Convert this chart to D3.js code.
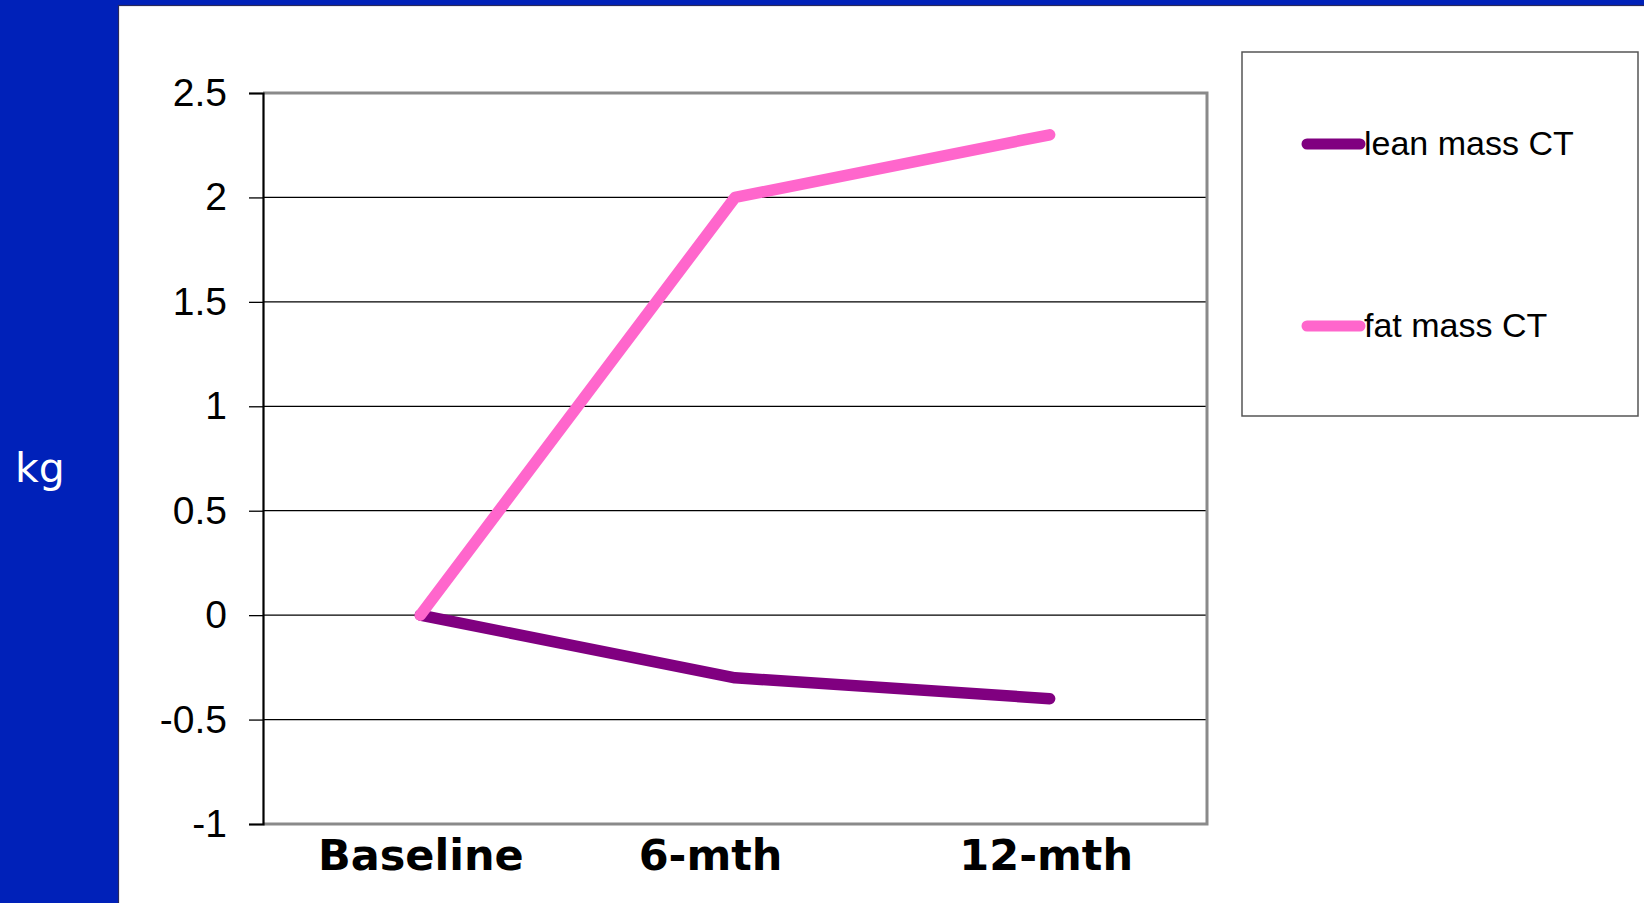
<!DOCTYPE html>
<html><head><meta charset="utf-8">
<script src="https://cdn.jsdelivr.net/npm/d3@7"></script>
<style>body{margin:0;background:#fff}svg{display:block}</style>
</head><body><svg id="c" width="1644" height="903"></svg>
<script>
const categories = ["Baseline", "6-mth", "12-mth"];
const leanMass = [0, -0.3, -0.4];
const fatMass = [0, 2.0, 2.3];
const seriesNames = ["lean mass CT", "fat mass CT"];
const seriesColors = ["#800080", "#FF66CC"];
const yTicks = [-1, -0.5, 0, 0.5, 1, 1.5, 2, 2.5];
const yLabel = "kg";

const svg = d3.select("#c");
svg.append("rect").attr("x",0).attr("y",0).attr("width",1644).attr("height",903).attr("fill","#0021B9");
svg.append("rect").attr("x",118.5).attr("y",5.5).attr("width",1530).attr("height",900)
  .attr("fill","#fff").attr("stroke","#2a2a5a").attr("stroke-width",1.2);

svg.append("text").attr("x",15).attr("y",482).attr("fill","#fff")
  .attr("font-family","DejaVu Sans, Verdana, sans-serif").attr("font-size",41).text(yLabel);

const L=263, R=1207, T=93, B=824;
const x = d3.scalePoint().domain(categories).range([L,R]).padding(0.5);
const y = d3.scaleLinear().domain([-1,2.5]).range([B,T]);

svg.append("g").selectAll("line").data(yTicks.filter(v=>v>-1 && v<2.5)).join("line")
  .attr("x1",L).attr("x2",R).attr("y1",d=>y(d)).attr("y2",d=>y(d))
  .attr("stroke","#000").attr("stroke-width",1.3);

svg.append("path").attr("d",`M${L},${T}H${R}V${B}H${L}`).attr("fill","none")
  .attr("stroke","#8a8a8a").attr("stroke-width",3);

const yAxis = d3.axisLeft(y).tickValues(yTicks).tickSize(14).tickPadding(22)
  .tickFormat(d=>String(d));
const ga = svg.append("g").attr("transform",`translate(${L},0)`).call(yAxis);
ga.select(".domain").attr("stroke","#000").attr("stroke-width",2.2);
ga.selectAll(".tick line").attr("stroke","#000").attr("stroke-width",1.3);
ga.selectAll(".tick text").attr("font-family","Liberation Sans, Arial, sans-serif")
  .attr("font-size",39).attr("fill","#000");

// x labels (the middle label sits a little left of its point in the original)
const labelShift = [0, -25, -4];
const gx = d3.axisBottom(x).tickSize(0).tickPadding(0);
const gxa = svg.append("g").attr("transform",`translate(0,${B})`).call(gx);
gxa.select(".domain").remove();
gxa.selectAll(".tick text").attr("font-family","DejaVu Sans, Verdana, sans-serif")
  .attr("font-weight","bold").attr("font-size",43).attr("fill","#000")
  .attr("dy",null).attr("y",46).attr("x",(d,i)=>labelShift[i]);

const line = d3.line().x((d,i)=>x(categories[i])).y(d=>y(d));
[leanMass, fatMass].forEach((vals,k)=>{
  svg.append("path").attr("d",line(vals)).attr("fill","none")
    .attr("stroke",seriesColors[k]).attr("stroke-width",11.5)
    .attr("stroke-linecap","round").attr("stroke-linejoin","round");
});

svg.append("rect").attr("x",1242).attr("y",52).attr("width",396).attr("height",364)
  .attr("fill","#fff").attr("stroke","#555").attr("stroke-width",1.5);
const ly = [144, 326];
seriesNames.forEach((n,k)=>{
  svg.append("line").attr("x1",1307).attr("x2",1360).attr("y1",ly[k]).attr("y2",ly[k])
    .attr("stroke",seriesColors[k]).attr("stroke-width",11).attr("stroke-linecap","round");
  svg.append("text").attr("x",1364).attr("y",ly[k]+11)
    .attr("font-family","Liberation Sans, Arial, sans-serif").attr("font-size",34)
    .attr("fill","#000").text(n);
});
</script></body></html>
